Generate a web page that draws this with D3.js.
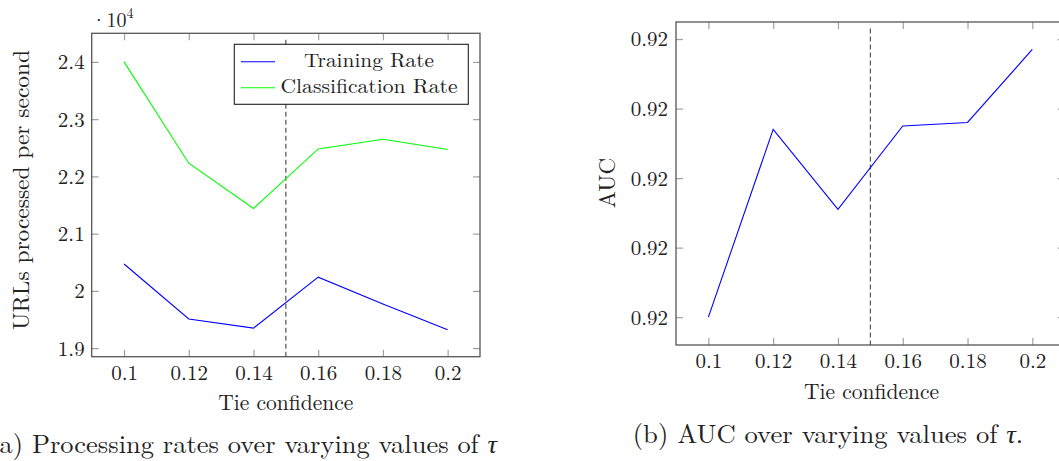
<!DOCTYPE html>
<html>
<head>
<meta charset="utf-8">
<script src="https://cdn.jsdelivr.net/npm/d3@7"></script>
<style>
  html, body { margin: 0; padding: 0; background: #fff; }
  svg { display: block; }
</style>
</head>
<body>
<svg id="chart" width="1059" height="461"></svg>
<script>
// ---- data ----
const tieConfidence = [0.1, 0.12, 0.14, 0.16, 0.18, 0.2];
const xTickValues = [0.1, 0.12, 0.14, 0.16, 0.18, 0.2];
const trainingRate = [20470, 19510, 19350, 20240, 19770, 19320];
const classificationRate = [24000, 22230, 21440, 22480, 22650, 22470];
const rateTicks = [19000, 20000, 21000, 22000, 23000, 24000];
const aucValues = [0.91920, 0.91974, 0.91951, 0.91975, 0.91976, 0.91997];
const aucTicks = [0.9192, 0.9194, 0.9196, 0.9198, 0.9200];
const threshold = 0.15;
const seriesNames = ["Training Rate", "Classification Rate"];
const seriesColors = ["#0000ff", "#00ff00"];

// pick an installed serif font (falls back gracefully)
function pickFont(cands) {
  const c = document.createElement("canvas").getContext("2d");
  const s = "Tie confidence 0.12 WMwmil";
  const base = {};
  ["monospace", "sans-serif"].forEach(b => { c.font = "40px " + b; base[b] = c.measureText(s).width; });
  for (const f of cands) {
    let ok = false;
    for (const b of ["monospace", "sans-serif"]) {
      c.font = `40px "${f}", ${b}`;
      if (Math.abs(c.measureText(s).width - base[b]) > 0.5) ok = true;
    }
    if (ok) return `"${f}", serif`;
  }
  return "serif";
}
const FONT = pickFont(["Latin Modern Roman", "CMU Serif", "Liberation Serif", "Times New Roman",
  "Tinos", "DejaVu Serif", "Noto Serif", "FreeSerif", "Nimbus Roman", "Times"]);

const svg = d3.select("#chart");
const TICK = 7;
const tickColor = "#a0a0a0";
const frameColor = "#555";

function txt(sel) { return sel.attr("font-family", FONT).style("font-family", FONT).attr("fill", "#222"); }

function drawFrame(g, x, y, opts) {
  const [x0, x1] = x.range();
  const [y1, y0] = y.range();
  const bottom = g.append("g").attr("transform", `translate(0,${y1})`)
    .call(d3.axisBottom(x).tickValues(opts.xTicks).tickSize(-TICK).tickFormat(opts.xFmt));
  bottom.selectAll("text").attr("y", 23).attr("dy", 0).style("font-size", "21px");
  const top = g.append("g").attr("transform", `translate(0,${y0})`)
    .call(d3.axisTop(x).tickValues(opts.xTicks).tickSize(-TICK).tickFormat(""));
  const left = g.append("g").attr("transform", `translate(${x0},0)`)
    .call(d3.axisLeft(y).tickValues(opts.yTicks).tickSize(-TICK).tickFormat(opts.yFmt));
  left.selectAll("text").attr("x", -opts.yLabelGap).attr("dy", "0.33em").style("font-size", "21px");
  const right = g.append("g").attr("transform", `translate(${x1},0)`)
    .call(d3.axisRight(y).tickValues(opts.yTicks).tickSize(-TICK).tickFormat(""));
  [bottom, top, left, right].forEach(a => {
    a.attr("font-family", FONT);
    a.select(".domain").remove();
    a.selectAll(".tick line").attr("stroke", tickColor).attr("stroke-width", 1.2);
    txt(a.selectAll("text"));
  });
  g.append("rect").attr("x", x0).attr("y", y0).attr("width", x1 - x0).attr("height", y1 - y0)
    .attr("fill", "none").attr("stroke", frameColor).attr("stroke-width", 1.3);
  g.append("line").attr("x1", x(threshold)).attr("x2", x(threshold))
    .attr("y1", y0 + 6.5).attr("y2", y1)
    .attr("stroke", "#444").attr("stroke-width", 1.1).attr("stroke-dasharray", "5,3");
}

// ---------- Panel (a) ----------
{
  const x = d3.scaleLinear().domain([0.09, 0.21]).range([91.7, 480]);
  const y = d3.scaleLinear().domain([18850, 24500]).range([356.7, 33.3]);
  const g = svg.append("g");
  drawFrame(g, x, y, {
    xTicks: xTickValues, yTicks: rateTicks,
    xFmt: d => d3.format("~g")(d), yFmt: d => d3.format("~g")(d / 1e4), yLabelGap: 7
  });
  const line = d3.line().x((d, i) => x(tieConfidence[i])).y(d => y(d));
  [trainingRate, classificationRate].forEach((s, k) => {
    g.append("path").datum(s).attr("d", line).attr("fill", "none")
      .attr("stroke", seriesColors[k]).attr("stroke-width", 1.1);
  });
  const sf = txt(g.append("text")).attr("x", 91).attr("y", 27).style("font-size", "20px");
  sf.append("tspan").text("·10");
  sf.append("tspan").attr("dy", -9).style("font-size", "14px").text("4");
  const lg = g.append("g");
  lg.append("rect").attr("x", 234.3).attr("y", 44.3).attr("width", 234).attr("height", 60)
    .attr("fill", "#fff").attr("stroke", "#222").attr("stroke-width", 1.1);
  const rowsY = [61.7, 87.7];
  seriesNames.forEach((n, k) => {
    lg.append("line").attr("x1", 241).attr("x2", 275).attr("y1", rowsY[k]).attr("y2", rowsY[k])
      .attr("stroke", seriesColors[k]).attr("stroke-width", 1.1);
    txt(lg.append("text")).attr("x", 369).attr("y", rowsY[k] + 5.5)
      .attr("text-anchor", "middle").style("font-size", "19.5px").text(n)
      .attr("textLength", k === 0 ? 130 : 177).attr("lengthAdjust", "spacingAndGlyphs");
  });
  txt(g.append("text")).attr("x", 285.8).attr("y", 410).attr("text-anchor", "middle")
    .style("font-size", "22px").attr("textLength", 135).attr("lengthAdjust", "spacingAndGlyphs")
    .text("Tie confidence");
  txt(g.append("text")).attr("transform", "translate(29,190) rotate(-90)").attr("text-anchor", "middle")
    .style("font-size", "23px").attr("textLength", 280).attr("lengthAdjust", "spacingAndGlyphs")
    .text("URLs processed per second");
  const cap = txt(g.append("text")).attr("x", -10.7).attr("y", 452.5).style("font-size", "26px")
    .attr("textLength", 507.7).attr("lengthAdjust", "spacingAndGlyphs");
  cap.append("tspan").text("(a) Processing rates over varying values of ");
  cap.append("tspan").style("font-style", "italic").text("τ");
}

// ---------- Panel (b) ----------
{
  const x = d3.scaleLinear().domain([0.09, 0.21]).range([676, 1064.7]);
  const y = d3.scaleLinear().domain([0.91912, 0.920049]).range([345, 22]);
  const g = svg.append("g");
  drawFrame(g, x, y, {
    xTicks: xTickValues, yTicks: aucTicks,
    xFmt: d => d3.format("~g")(d), yFmt: d => d3.format(".2f")(d), yLabelGap: 8
  });
  const line = d3.line().x((d, i) => x(tieConfidence[i])).y(d => y(d));
  g.append("path").datum(aucValues).attr("d", line).attr("fill", "none")
    .attr("stroke", seriesColors[0]).attr("stroke-width", 1.1);
  txt(g.append("text")).attr("x", 871.5).attr("y", 398.5).attr("text-anchor", "middle")
    .style("font-size", "22px").attr("textLength", 135).attr("lengthAdjust", "spacingAndGlyphs")
    .text("Tie confidence");
  txt(g.append("text")).attr("transform", "translate(615,183) rotate(-90)").attr("text-anchor", "middle")
    .style("font-size", "23px").text("AUC");
  const cap = txt(g.append("text")).attr("x", 632.7).attr("y", 443.3).style("font-size", "26px")
    .attr("textLength", 390.6).attr("lengthAdjust", "spacingAndGlyphs");
  cap.append("tspan").text("(b) AUC over varying values of ");
  cap.append("tspan").style("font-style", "italic").text("τ");
  cap.append("tspan").text(".");
}
</script>
</body>
</html>
